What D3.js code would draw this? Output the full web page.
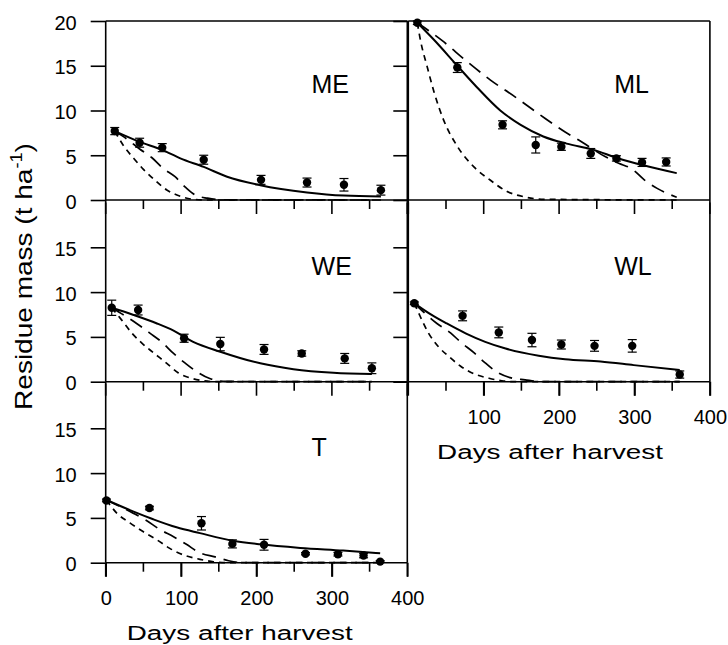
<!DOCTYPE html>
<html><head><meta charset="utf-8">
<script src="https://cdn.jsdelivr.net/npm/d3@7"></script>
<style>
body{margin:0;background:#fff}
svg{display:block}
text{font-family:"Liberation Sans",Arial,Helvetica,sans-serif;fill:#000}
</style>
</head><body>
<svg id="chart" width="728" height="645"></svg>
<script>
// ---------- DATA ----------
const panelNames = ["ME", "ML", "WE", "WL", "T"];
const xMajorTicks = [0, 100, 200, 300, 400];
const xMinorTicks = [50, 150, 250, 350];
const yTicks = [0, 5, 10, 15, 20];
const yTitle = "Residue mass (t ha";
const yTitleSup = "-1";
const xTitle = "Days after harvest";

// ME
const meObsDays = [12, 45, 75, 130, 206, 267, 316, 365];
const meObsMass = [7.7, 6.4, 5.85, 4.5, 2.25, 1.95, 1.7, 1.1];
const meObsErr  = [0.4, 0.5, 0.45, 0.5, 0.5, 0.5, 0.7, 0.55];
const meSolidDays = [12, 45, 75, 99, 130, 161, 205, 267, 316, 365];
const meSolidMass = [7.7, 6.5, 5.6, 4.65, 3.7, 2.6, 1.65, 0.85, 0.5, 0.4];
const meShortDays = [12, 23, 37, 50, 65, 81, 98, 116, 135, 365];
const meShortMass = [7.7, 6.15, 4.66, 3.43, 2.23, 1.12, 0.45, 0.08, 0, 0];
const meLongDays = [12, 30, 45, 61, 76, 92, 106, 120, 135, 155, 365];
const meLongMass = [7.7, 6.7, 5.7, 4.75, 3.55, 2.6, 1.4, 0.5, 0.2, 0.02, 0];

// ML
const mlObsDays = [12, 65, 125, 169, 203, 242, 276, 310, 342];
const mlObsMass = [19.8, 14.8, 8.4, 6.15, 5.95, 5.2, 4.65, 4.2, 4.25];
const mlObsErr  = [0.2, 0.55, 0.45, 0.9, 0.4, 0.55, 0.3, 0.45, 0.45];
const mlSolidDays = [12, 34, 65, 91, 122, 149, 179, 210, 246, 277, 313, 356];
const mlSolidMass = [19.8, 17.9, 15.0, 12.6, 10.0, 8.4, 7.1, 6.3, 5.6, 4.7, 3.85, 3.0];
const mlShortDays = [12, 16, 25, 34, 47, 65, 87, 109, 131, 153, 180, 356];
const mlShortMass = [19.8, 17.9, 14.9, 12.1, 8.9, 6.0, 3.7, 2.2, 0.95, 0.37, 0.08, 0];
const mlLongDays = [12, 45, 76, 109, 142, 175, 208, 226, 261, 279, 297, 313, 330, 356];
const mlLongMass = [19.8, 17.8, 15.6, 13.4, 11.5, 9.5, 7.6, 6.7, 4.85, 4.1, 3.45, 2.25, 1.3, 0.3];

// WE
const weObsDays = [8, 43, 104, 152, 210, 260, 317, 353];
const weObsMass = [8.25, 8.0, 4.85, 4.2, 3.6, 3.15, 2.6, 1.5];
const weObsErr  = [0.85, 0.55, 0.45, 0.75, 0.55, 0.3, 0.55, 0.6];
const weSolidDays = [8, 37, 68, 90, 116, 152, 205, 249, 302, 353];
const weSolidMass = [8.25, 7.45, 6.5, 5.7, 4.45, 3.35, 2.05, 1.4, 1.0, 0.85];
const weShortDays = [8, 21, 35, 48, 63, 81, 96, 116, 130, 145, 353];
const weShortMass = [8.25, 6.9, 5.4, 4.3, 3.25, 2.05, 1.0, 0.33, 0.1, 0, 0];
const weLongDays = [8, 41, 59, 74, 90, 105, 121, 138, 160, 353];
const weLongMass = [8.25, 6.5, 5.4, 4.45, 3.15, 2.1, 1.1, 0.35, 0.03, 0];

// WL
const wlObsDays = [8, 72, 120, 164, 203, 247, 297, 360];
const wlObsMass = [8.75, 7.35, 5.5, 4.65, 4.15, 4.0, 4.0, 0.8];
const wlObsErr  = [0.15, 0.55, 0.6, 0.75, 0.5, 0.6, 0.7, 0.4];
const wlSolidDays = [8, 31, 51, 76, 102, 129, 173, 208, 255, 299, 360];
const wlSolidMass = [8.75, 7.45, 6.5, 5.4, 4.45, 3.7, 2.9, 2.5, 2.25, 1.85, 1.3];
const wlShortDays = [8, 16, 27, 40, 54, 69, 89, 107, 124, 140, 360];
const wlShortMass = [8.75, 7.25, 5.4, 3.9, 2.8, 1.75, 0.82, 0.38, 0.1, 0, 0];
const wlLongDays = [8, 38, 56, 69, 87, 100, 118, 135, 155, 178, 360];
const wlLongMass = [8.75, 6.5, 5.45, 4.45, 3.25, 2.25, 1.05, 0.45, 0.2, 0, 0];

// T
const tObsDays = [1, 58, 127, 168, 210, 265, 308, 342, 364];
const tObsMass = [6.95, 6.1, 4.4, 2.1, 2.0, 1.0, 0.95, 0.8, 0.12];
const tObsErr  = [0.15, 0.2, 0.75, 0.45, 0.6, 0.12, 0.2, 0.25, 0.1];
const tSolidDays = [1, 37, 63, 94, 125, 169, 205, 258, 315, 364];
const tSolidMass = [7.0, 5.7, 4.85, 3.95, 3.3, 2.45, 2.05, 1.65, 1.35, 1.05];
const tShortDays = [1, 15, 32, 50, 68, 85, 107, 125, 143, 160, 364];
const tShortMass = [7.0, 5.5, 4.45, 3.45, 2.55, 1.6, 0.75, 0.38, 0.1, 0, 0];
const tLongDays = [1, 37, 54, 72, 90, 107, 125, 145, 163, 180, 364];
const tLongMass = [7.0, 5.5, 4.7, 3.7, 2.9, 2.05, 1.1, 0.65, 0.22, 0.02, 0];

// ---------- LAYOUT ----------
const colX = [[105.7, 407.3], [408.3, 709.9]];
const rowY = [[200, 21], [381.7, 202.5], [562.7, 383.5]];
const zip = (a, b) => a.map((v, i) => [v, b[i]]);

const panels = [
  {name: panelNames[0], col: 0, row: 0, yLabels: true, xLabels: null, top: true,
   obs: [meObsDays, meObsMass, meObsErr], solid: zip(meSolidDays, meSolidMass), short: zip(meShortDays, meShortMass), long: zip(meLongDays, meLongMass)},
  {name: panelNames[1], col: 1, row: 0, yLabels: false, xLabels: null, top: true,
   obs: [mlObsDays, mlObsMass, mlObsErr], solid: zip(mlSolidDays, mlSolidMass), short: zip(mlShortDays, mlShortMass), long: zip(mlLongDays, mlLongMass)},
  {name: panelNames[2], col: 0, row: 1, yLabels: true, xLabels: null, top: false,
   obs: [weObsDays, weObsMass, weObsErr], solid: zip(weSolidDays, weSolidMass), short: zip(weShortDays, weShortMass), long: zip(weLongDays, weLongMass)},
  {name: panelNames[3], col: 1, row: 1, yLabels: false, xLabels: xMajorTicks.slice(1), top: false,
   obs: [wlObsDays, wlObsMass, wlObsErr], solid: zip(wlSolidDays, wlSolidMass), short: zip(wlShortDays, wlShortMass), long: zip(wlLongDays, wlLongMass)},
  {name: panelNames[4], col: 0, row: 2, yLabels: true, xLabels: xMajorTicks, top: false,
   obs: [tObsDays, tObsMass, tObsErr], solid: zip(tSolidDays, tSolidMass), short: zip(tShortDays, tShortMass), long: zip(tLongDays, tLongMass)}
];

const svg = d3.select("#chart");
const FS_TICK = 20;

panels.forEach(p => {
  const x = d3.scaleLinear().domain([0, 400]).range(colX[p.col]);
  const y = d3.scaleLinear().domain([0, 20]).range(rowY[p.row]);
  const g = svg.append("g");

  const line = d3.line().x(d => x(d[0])).y(d => y(d[1])).curve(d3.curveMonotoneX);

  // model curves
  g.append("path").datum(p.short).attr("d", line)
    .attr("fill", "none").attr("stroke", "#000").attr("stroke-width", 1.7)
    .attr("stroke-dasharray", "6,5");
  g.append("path").datum(p.long).attr("d", line)
    .attr("fill", "none").attr("stroke", "#000").attr("stroke-width", 1.7)
    .attr("stroke-dasharray", "14,8");
  g.append("path").datum(p.solid).attr("d", line)
    .attr("fill", "none").attr("stroke", "#000").attr("stroke-width", 2);

  // observations
  const obs = p.obs[0].map((d, i) => ({d: d, m: p.obs[1][i], e: p.obs[2][i]}));
  const og = g.append("g").attr("stroke", "#000").attr("stroke-width", 1.2);
  obs.forEach(o => {
    og.append("line").attr("x1", x(o.d)).attr("x2", x(o.d)).attr("y1", y(o.m - o.e)).attr("y2", y(o.m + o.e));
    [o.m - o.e, o.m + o.e].forEach(v => {
      og.append("line").attr("x1", x(o.d) - 4.5).attr("x2", x(o.d) + 4.5).attr("y1", y(v)).attr("y2", y(v));
    });
  });
  g.selectAll("circle.pt").data(obs).join("circle").attr("class", "pt")
    .attr("cx", o => x(o.d)).attr("cy", o => y(o.m)).attr("r", 4.2).attr("fill", "#000");

  // frame
  const fr = g.append("g").attr("stroke", "#000").attr("stroke-width", 1.6).attr("fill", "none");
  fr.append("line").attr("x1", x(0)).attr("x2", x(0)).attr("y1", y(20)).attr("y2", y(0));
  fr.append("line").attr("x1", x(400)).attr("x2", x(400)).attr("y1", y(20)).attr("y2", y(0));
  fr.append("line").attr("x1", x(0)).attr("x2", x(400)).attr("y1", y(0)).attr("y2", y(0));
  if (p.top) fr.append("line").attr("x1", x(0)).attr("x2", x(400)).attr("y1", y(20)).attr("y2", y(20));

  // x tick marks (drawn from the scale)
  const tk = g.append("g").attr("stroke", "#000").attr("stroke-width", 1.6);
  tk.selectAll("line.maj").data(xMajorTicks).join("line").attr("class", "maj")
    .attr("x1", v => x(v)).attr("x2", v => x(v)).attr("y1", y(0)).attr("y2", y(0) + 14);
  tk.selectAll("line.min").data(xMinorTicks).join("line").attr("class", "min")
    .attr("x1", v => x(v)).attr("x2", v => x(v)).attr("y1", y(0)).attr("y2", y(0) + 9);

  // x axis labels
  if (p.xLabels) {
    const xAx = d3.axisBottom(x).tickValues(p.xLabels).tickSize(14).tickPadding(14)
      .tickFormat(d3.format("d"));
    const a = g.append("g").attr("transform", `translate(0,${y(0)})`).call(xAx);
    a.select(".domain").remove();
    a.selectAll("line").attr("stroke", "#000").attr("stroke-width", 1.6);
    a.selectAll("text").attr("font-size", FS_TICK).attr("font-family", null).attr("fill", "#000");
  }

  // y axis
  const yVals = p.row === 0 ? yTicks : yTicks.slice(0, 4);
  const yAx = d3.axisLeft(y).tickValues(yVals).tickSize(15).tickPadding(14)
    .tickFormat(v => p.yLabels ? d3.format("d")(v) : "");
  const ya = g.append("g").attr("transform", `translate(${x(0)},0)`).call(yAx);
  ya.select(".domain").remove();
  ya.selectAll("line").attr("stroke", "#000").attr("stroke-width", 1.6);
  ya.selectAll("text").attr("font-size", FS_TICK).attr("font-family", null).attr("fill", "#000").attr("dy", "0.4em");

  // panel label
  g.append("text").attr("x", x(273)).attr("y", y(11.9)).attr("font-size", 25).text(p.name);
});

// stretched titles
function stretched(str, cx, cy, target, fs, rot, sup) {
  const t = svg.append("text").attr("text-anchor", "middle").attr("font-size", fs).text(str);
  if (sup) {
    t.append("tspan").attr("font-size", fs * 0.65).attr("dy", -fs * 0.42).text(sup);
    t.append("tspan").attr("dy", fs * 0.42).text(")");
  }
  const w = t.node().getComputedTextLength();
  const s = target / w;
  t.attr("transform", `translate(${cx},${cy}) rotate(${rot}) scale(${s},1)`);
}
stretched(xTitle, 239.7, 640, 226, 21, 0);
stretched(xTitle, 550, 459, 226, 21, 0);
stretched(yTitle, 32.3, 276.5, 267, 24, -90, yTitleSup);
</script>
</body></html>
